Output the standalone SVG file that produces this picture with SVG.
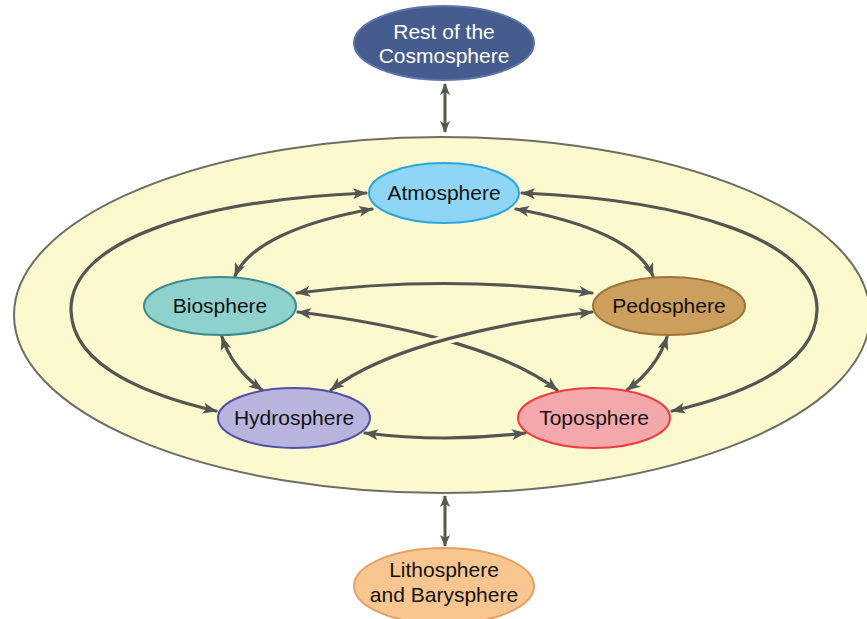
<svg xmlns="http://www.w3.org/2000/svg" width="867" height="619" viewBox="0 0 867 619">
<style>
.lbl{font-family:"Liberation Sans",Arial,sans-serif;font-size:21px;fill:#111;text-anchor:middle}
.wht{fill:#fff}
.c{fill:none;stroke:#555551;stroke-width:3.2;stroke-linecap:round}
.v{fill:none;stroke:#555a48;stroke-width:3}
</style>
<defs>
<marker id="ah" viewBox="0 0 14 11" refX="13" refY="5.5" markerWidth="14" markerHeight="11" markerUnits="userSpaceOnUse" orient="auto-start-reverse">
<path d="M0,0 L14,5.5 L0,11 L3.5,5.5 Z" fill="#555551"/>
</marker>
<marker id="av" viewBox="0 0 12 10" refX="11" refY="5" markerWidth="12" markerHeight="10" markerUnits="userSpaceOnUse" orient="auto-start-reverse">
<path d="M0,0 L12,5 L0,10 L3,5 Z" fill="#555a48"/>
</marker>
</defs>
<rect width="867" height="619" fill="#fff"/>
<g id="earth">
<ellipse cx="442" cy="315" rx="428" ry="178" fill="#fdf9cf" stroke="#6e6e62" stroke-width="2"/>
</g>
<g id="connectors">
<path class="v" d="M445,84 L445,132" marker-start="url(#av)" marker-end="url(#av)"/>
<path class="v" d="M445,496 L445,546" marker-start="url(#av)" marker-end="url(#av)"/>
<path class="c" d="M366,193 C200,200 70,240 71,310 C72,370 160,398 216,411" marker-start="url(#ah)" marker-end="url(#ah)"/>
<path class="c" d="M522,193 C688,200 818,240 817,310 C816,370 728,398 672,411" marker-start="url(#ah)" marker-end="url(#ah)"/>
<path class="c" d="M372,209 C300,222 248,245 235,276" marker-start="url(#ah)" marker-end="url(#ah)"/>
<path class="c" d="M516,209 C588,222 640,245 653,276" marker-start="url(#ah)" marker-end="url(#ah)"/>
<path class="c" d="M297,293 Q444,274 592,293" marker-start="url(#ah)" marker-end="url(#ah)"/>
<path class="c" d="M298,312 C380,322 500,345 557,390" marker-start="url(#ah)" marker-end="url(#ah)"/>
<path d="M431,344 L459,336" stroke="#fdf9cf" stroke-width="10" fill="none"/>
<path class="c" d="M592,312 C508,322 388,345 331,390" marker-start="url(#ah)" marker-end="url(#ah)"/>
<path class="c" d="M222,337 Q232,368 262,390" marker-start="url(#ah)" marker-end="url(#ah)"/>
<path class="c" d="M667,337 Q657,368 627,390" marker-start="url(#ah)" marker-end="url(#ah)"/>
<path class="c" d="M365,433 Q445,443 525,433" marker-start="url(#ah)" marker-end="url(#ah)"/>
</g>
<g id="cosmosphere">
<ellipse cx="444" cy="43" rx="90" ry="37" fill="#465c8e" stroke="#5d75a8" stroke-width="2"/>
<text class="lbl wht" x="444" y="39">Rest of the</text>
<text class="lbl wht" x="444" y="63">Cosmosphere</text>
</g>
<g id="atmosphere">
<ellipse cx="444" cy="193" rx="75" ry="30" fill="#8fd6f6" stroke="#2aa6df" stroke-width="2"/>
<text class="lbl" x="444" y="200">Atmosphere</text>
</g>
<g id="biosphere">
<ellipse cx="220" cy="306" rx="76" ry="29" fill="#8fd1cd" stroke="#3b8a8e" stroke-width="2"/>
<text class="lbl" x="220" y="313">Biosphere</text>
</g>
<g id="pedosphere">
<ellipse cx="669" cy="306" rx="76" ry="29" fill="#cd9f5d" stroke="#9f723a" stroke-width="2"/>
<text class="lbl" x="669" y="313">Pedosphere</text>
</g>
<g id="hydrosphere">
<ellipse cx="294" cy="418" rx="76" ry="30" fill="#b9b4de" stroke="#4f4fa8" stroke-width="2"/>
<text class="lbl" x="294" y="425">Hydrosphere</text>
</g>
<g id="toposphere">
<ellipse cx="594" cy="418" rx="76" ry="30" fill="#f5a8ac" stroke="#ee3b3b" stroke-width="2"/>
<text class="lbl" x="594" y="425">Toposphere</text>
</g>
<g id="lithosphere">
<ellipse cx="444" cy="586" rx="90" ry="38" fill="#f9c690" stroke="#e3a263" stroke-width="2"/>
<text class="lbl" x="444" y="577">Lithosphere</text>
<text class="lbl" x="444" y="602">and Barysphere</text>
</g>
</svg>
